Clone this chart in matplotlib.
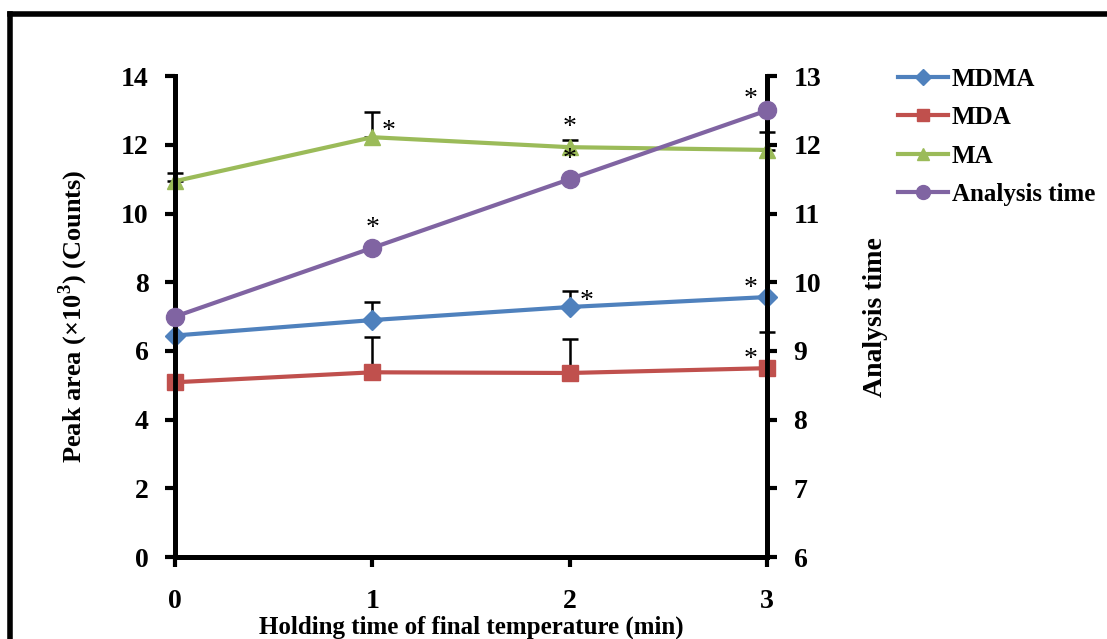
import matplotlib
matplotlib.use("Agg")
import matplotlib.pyplot as plt
from matplotlib.lines import Line2D

plt.rcParams['font.family'] = ['Liberation Serif', 'DejaVu Serif']
plt.rcParams['font.weight'] = 'bold'
plt.rcParams['axes.labelweight'] = 'bold'
plt.rcParams['mathtext.fontset'] = 'custom'
plt.rcParams['mathtext.rm'] = 'Liberation Serif:bold'

# holding time (min)
hold = [0, 1, 2, 3]

# peak areas (x10^3 counts) and upper error
mdma = [6.45, 6.9, 7.28, 7.57]
mdma_err = [0.0, 0.52, 0.46, 0.0]
mda = [5.09, 5.38, 5.36, 5.5]
mda_err = [0.0, 1.02, 1.0, 1.05]
ma = [10.94, 12.22, 11.93, 11.85]
ma_err = [0.23, 0.73, 0.2, 0.52]

# analysis time (right axis)
analysis = [9.5, 10.5, 11.5, 12.5]

# significance marks: (series, index, dx pts, dy pts)
stars_left = [("ma", 1, 12, 4), ("ma", 2, 0, 14), ("mdma", 2, 12, 4),
              ("mdma", 3, -12, 6), ("mda", 3, -12, 6)]
stars_right = [(1, 0, 14), (2, 0, 14), (3, -12, 8)]

colors = {"mdma": "#4F81BD", "mda": "#C0504D", "ma": "#9BBB59", "time": "#8064A2"}

fig = plt.figure(figsize=(11.07, 6.39), dpi=100)
ax = fig.add_axes([0.158, 0.128, 0.535, 0.753])
ax2 = ax.twinx()

series = {"mdma": (mdma, mdma_err, "D", 10), "mda": (mda, mda_err, "s", 12),
          "ma": (ma, ma_err, "^", 12)}
labels = {"mdma": "MDMA", "mda": "MDA", "ma": "MA"}
for key, (vals, err, mk, ms) in series.items():
    ax.errorbar(hold, vals, yerr=[[0] * len(err), err], fmt='none', ecolor='black',
                elinewidth=1.8, capsize=6, capthick=1.8, zorder=2, clip_on=False)
    ax.plot(hold, vals, color=colors[key], marker=mk, markersize=ms, lw=3,
            zorder=3, clip_on=False)

ax2.plot(hold, analysis, color=colors["time"], marker="o", markersize=13, lw=3,
         zorder=3, clip_on=False)

for key, i, dx, dy in stars_left:
    vals = series[key][0]
    ax.annotate("*", (hold[i], vals[i]), xytext=(dx, dy), textcoords='offset points',
                ha='center', va='center', fontsize=20, fontweight='normal')
for i, dx, dy in stars_right:
    ax2.annotate("*", (hold[i], analysis[i]), xytext=(dx, dy), textcoords='offset points',
                 ha='center', va='center', fontsize=20, fontweight='normal')

ax.set_xlim(0, 3)
ax.set_ylim(0, 14)
ax2.set_ylim(6, 13)
ax.set_xticks(hold)
ax.set_yticks(range(0, 15, 2))
ax2.set_yticks(range(6, 14))

for a in (ax, ax2):
    for s in a.spines.values():
        s.set_linewidth(3.5)
    a.spines['top'].set_visible(False)
ax.tick_params(axis='y', direction='out', length=7, width=3, labelsize=20, pad=12)
ax.tick_params(axis='x', direction='out', length=7, width=3, labelsize=20, pad=16)
ax2.tick_params(axis='y', direction='out', length=7, width=3, labelsize=20, pad=12)

ax.set_xlabel("Holding time of final temperature (min)", fontsize=18, labelpad=1)
ax.set_ylabel("Peak area (×10$^3$) (Counts)", fontsize=19, labelpad=22)
ax2.set_ylabel("Analysis time", fontsize=20, labelpad=30)

handles = [Line2D([], [], color=colors[k], marker=series[k][2], markersize=8, lw=3)
           for k in ("mdma", "mda", "ma")]
handles.append(Line2D([], [], color=colors["time"], marker="o", markersize=10, lw=3))
fig.legend(handles, [labels["mdma"], labels["mda"], labels["ma"], "Analysis time"],
           loc='upper left', bbox_to_anchor=(0.802, 0.91), frameon=False,
           fontsize=18, handlelength=2.0, handletextpad=0.15, labelspacing=0.62,
           borderaxespad=0)

# outer frame
fig.add_artist(Line2D([0.009, 1.0], [0.978, 0.978], color='black', lw=4,
                      transform=fig.transFigure))
fig.add_artist(Line2D([0.009, 0.009], [0.0, 0.978], color='black', lw=4,
                      transform=fig.transFigure))

fig.savefig("out.png", dpi=100)
